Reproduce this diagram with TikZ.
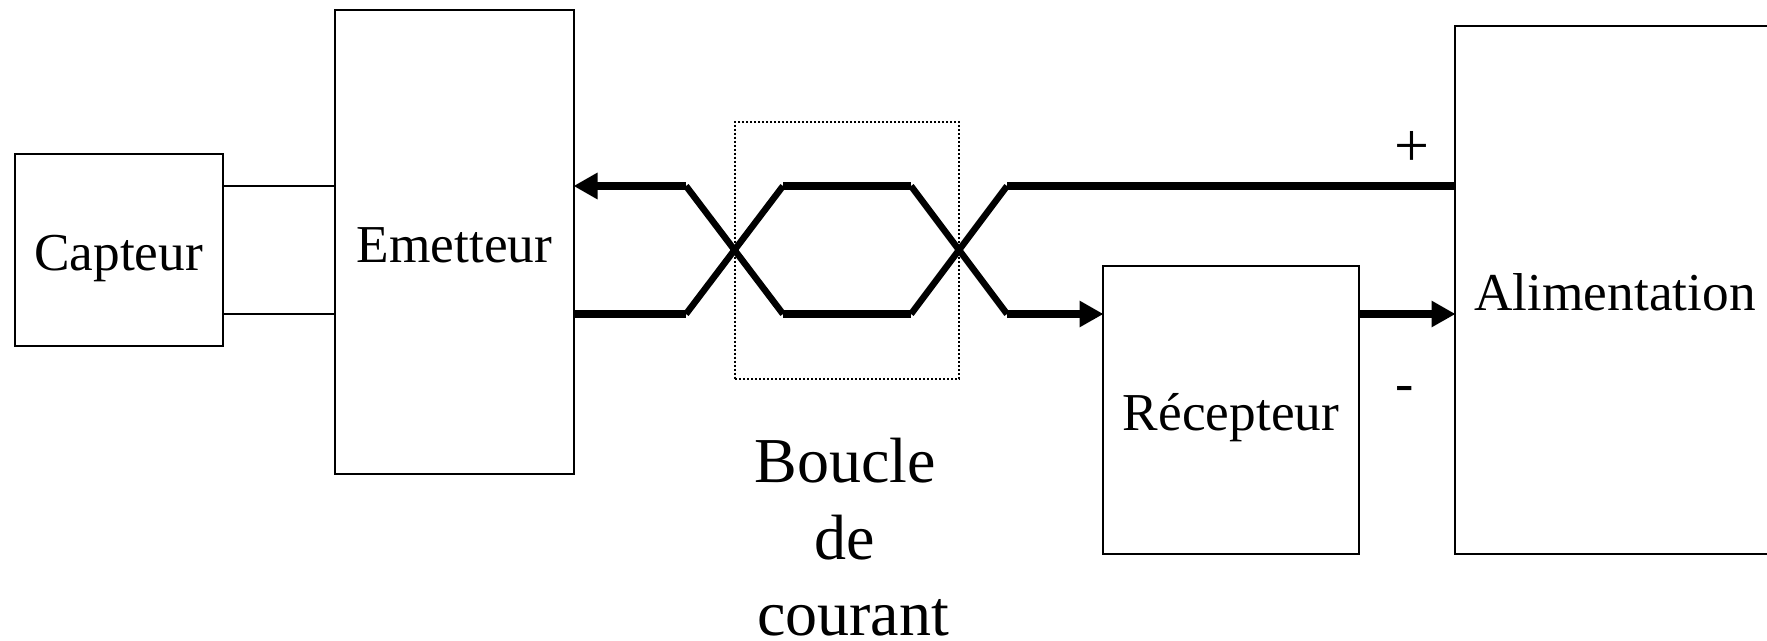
\documentclass[tikz,border=0pt]{standalone}
\usepackage{fontspec}
\setmainfont{Liberation Serif}
\usetikzlibrary{arrows.meta}
\tikzset{
  bloc/.style={draw,line width=2pt,inner sep=0pt,text height=43pt,text depth=3pt,font=\fontsize{53.3}{60}\selectfont},
  legende/.style={inner sep=0pt,anchor=base,font=\fontsize{64}{70}\selectfont},
  fil/.style={line width=8pt},
  croix/.style={line width=6.5pt},
  fleche/.style={fil,shorten >=-1.5pt,-{Triangle[length=24pt,width=25pt]}}
}
\begin{document}
\begin{tikzpicture}[x=1pt,y=-1pt]
\useasboundingbox (0,0) rectangle (1767,640);
\node[draw,line width=2pt,dash pattern=on 2pt off 2pt,inner sep=0pt,minimum width=224pt,minimum height=257pt] (boucle) at (847,250) {};
\node[bloc,minimum width=208pt,minimum height=192pt] (capteur) at (118.5,250) {Capteur};
\node[bloc,minimum width=239pt,minimum height=464pt] (emetteur) at (454.5,242) {Emetteur};
\node[bloc,minimum width=256pt,minimum height=288pt] (recepteur) at (1231,410) {R\'ecepteur};
\node[bloc,minimum width=320pt,minimum height=528pt] (alim) at (1615,290) {Alimentation};
\node[legende] (l1) at (845,482) {Boucle};
\node[legende] (l2) at (845,559) {de};
\node[legende] (l3) at (853,635) {courant};
\node[inner sep=0pt,font=\fontsize{62}{70}\selectfont] (plus) at (1412,149) {+};
\node[inner sep=0pt,font=\fontsize{55}{60}\selectfont] (moins) at (1405,394) {-};
% niveaux des deux fils
\coordinate (h) at (0,186);
\coordinate (b) at (0,314);
\coordinate (h1) at (686,186);
\coordinate (b1) at (686,314);
\coordinate (h2) at (783,186);
\coordinate (b2) at (783,314);
\coordinate (h3) at (911,186);
\coordinate (b3) at (911,314);
\coordinate (h4) at (1007,186);
\coordinate (b4) at (1007,314);
\draw[line width=2pt] (capteur.east |- h) -- (emetteur.west |- h);
\draw[line width=2pt] (capteur.east |- b) -- (emetteur.west |- b);
\draw[fleche] (h1) -- (emetteur.east |- h);
\draw[fil] (emetteur.east |- b) -- (b1);
\draw[croix] (h1) -- (b2);
\draw[croix] (b1) -- (h2);
\draw[fil] (h2) -- (h3);
\draw[fil] (b2) -- (b3);
\draw[croix] (h3) -- (b4);
\draw[croix] (b3) -- (h4);
\draw[fil] (h4) -- (alim.west |- h);
\draw[fleche] (b4) -- (recepteur.west |- b);
\draw[fleche] (recepteur.east |- b) -- (alim.west |- b);
\end{tikzpicture}
\end{document}
